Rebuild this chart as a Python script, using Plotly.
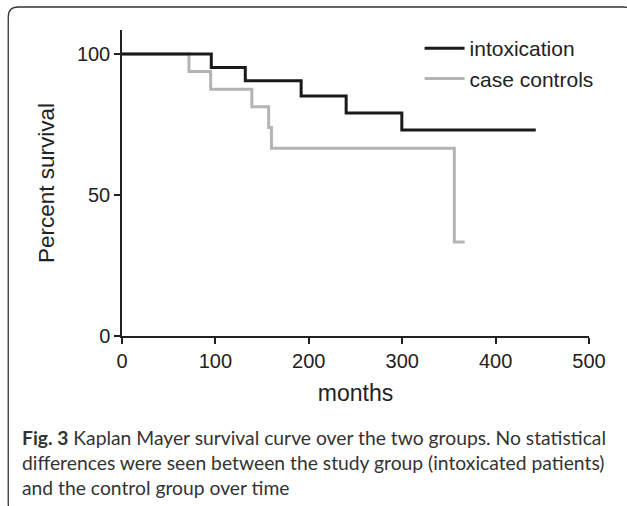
import plotly.graph_objects as go

# Data (months, percent survival), Kaplan-Meier steps
intox_months = [0, 95.6, 132, 191.8, 240, 299.6, 443]
intox_surv = [100, 95.2, 90.5, 85.1, 79.1, 73.0, 73.0]
ctrl_months = [0, 71.7, 94.9, 139, 157, 160, 355.8, 366.9]
ctrl_surv = [100, 93.8, 87.5, 81.3, 73.9, 66.6, 33.3, 33.3]
x_ticks = [0, 100, 200, 300, 400, 500]
y_ticks = [0, 50, 100]

W, H = 627, 506
L, R, T, B = 122.3, 37.5, 30, 170
PW, PH = W - L - R, H - T - B

def px(x):
    return (x - L) / PW

def py(y):
    return (H - B - y) / PH

FONT = "Liberation Sans, Arial, sans-serif"

fig = go.Figure()
fig.add_trace(go.Scatter(x=ctrl_months, y=ctrl_surv, mode="lines", line_shape="hv",
                         line=dict(color="#b4b4b4", width=3), name="case controls"))
fig.add_trace(go.Scatter(x=intox_months, y=intox_surv, mode="lines", line_shape="hv",
                         line=dict(color="#1a1a1a", width=3), name="intoxication"))

# rounded border path (decorative frame)
x0, y0, x1, y1, r = 8.5, 7, 634, 514, 10
path = (f"M {px(x0)},{py(y0 + r)} "
        f"Q {px(x0)},{py(y0)} {px(x0 + r)},{py(y0)} "
        f"L {px(x1 - r)},{py(y0)} "
        f"Q {px(x1)},{py(y0)} {px(x1)},{py(y0 + r)} "
        f"L {px(x1)},{py(y1 - r)} "
        f"Q {px(x1)},{py(y1)} {px(x1 - r)},{py(y1)} "
        f"L {px(x0 + r)},{py(y1)} "
        f"Q {px(x0)},{py(y1)} {px(x0)},{py(y1 - r)} Z")
fig.add_shape(type="path", path=path, xref="paper", yref="paper",
              line=dict(color="#333333", width=1.3), layer="below")

caption = ("<b>Fig. 3</b> Kaplan Mayer survival curve over the two groups. No statistical<br>"
           "differences were seen between the study group (intoxicated patients)<br>"
           "and the control group over time")
fig.add_annotation(text=caption, xref="paper", yref="paper", x=px(20), y=py(424),
                   xanchor="left", yanchor="top", align="left", showarrow=False,
                   font=dict(family="Lato, sans-serif", size=19.3, color="#333333"))

fig.update_layout(
    width=W, height=H,
    margin=dict(l=L, r=R, t=T, b=B, autoexpand=False),
    paper_bgcolor="white", plot_bgcolor="white",
    font=dict(family=FONT, color="#222222"),
    showlegend=True,
    legend=dict(x=px(420), y=py(28), xanchor="left", yanchor="top",
                traceorder="reversed", itemwidth=40, bgcolor="rgba(0,0,0,0)",
                font=dict(size=21, family=FONT, color="#222222")),
    xaxis=dict(range=[0, 500], tickvals=x_ticks, showgrid=False, zeroline=False,
               showline=True, linecolor="#222222", linewidth=1.5,
               ticks="outside", ticklen=6, tickwidth=1.5, tickcolor="#222222",
               tickfont=dict(size=20, family=FONT),
               title=dict(text="months", font=dict(size=23, family=FONT), standoff=14)),
    yaxis=dict(range=[0, 108.5], tickvals=y_ticks, showgrid=False, zeroline=False,
               showline=True, linecolor="#222222", linewidth=1.5,
               ticks="outside", ticklen=6, tickwidth=1.5, tickcolor="#222222",
               tickfont=dict(size=20, family=FONT),
               title=dict(text="Percent survival", font=dict(size=22.5, family=FONT), standoff=16)),
)

fig.write_html("out.html", config={"displayModeBar": False},
               post_script="document.body.style.margin='0';")
